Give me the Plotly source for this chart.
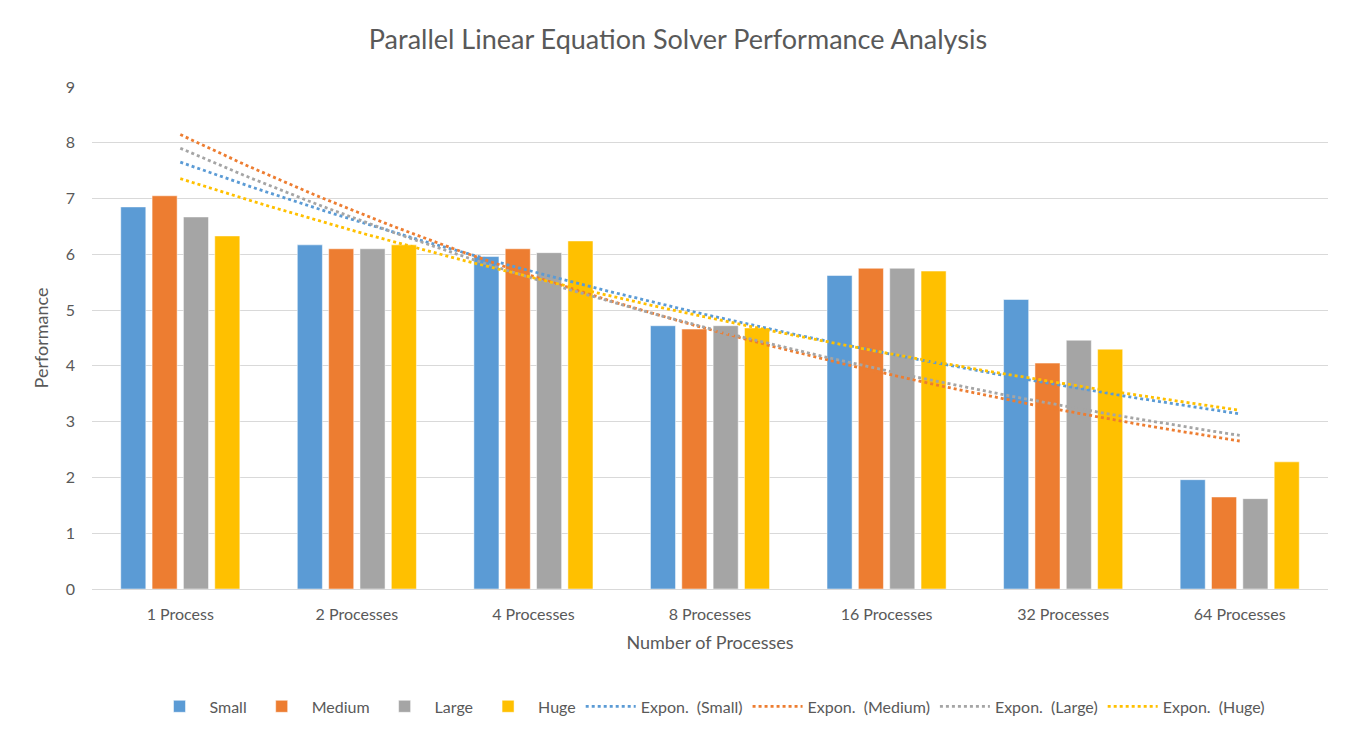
import numpy as np
import plotly.graph_objects as go

# --- data -------------------------------------------------------------------
CATEGORIES = ["1 Process", "2 Processes", "4 Processes", "8 Processes",
              "16 Processes", "32 Processes", "64 Processes"]
SMALL = [6.85, 6.17, 5.96, 4.72, 5.62, 5.19, 1.96]
MEDIUM = [7.05, 6.10, 6.10, 4.66, 5.75, 4.05, 1.65]
LARGE = [6.67, 6.10, 6.03, 4.72, 5.75, 4.46, 1.62]
HUGE = [6.33, 6.17, 6.24, 4.68, 5.70, 4.30, 2.28]
Y_TICKS = [0, 1, 2, 3, 4, 5, 6, 7, 8, 9]

INK = "#595959"
GRID = "#D9D9D9"
FONT = "Lato"
SERIES = [("Small", SMALL, "#5B9BD5"), ("Medium", MEDIUM, "#ED7D31"),
          ("Large", LARGE, "#A5A5A5"), ("Huge", HUGE, "#FFC000")]

xs = np.arange(len(CATEGORIES))
fig = go.Figure()

for name, vals, col in SERIES:
    fig.add_trace(go.Bar(x=xs, y=vals, name=name, marker_color=col,
                         hovertemplate=f"{name}: %{{y:.2f}}<extra></extra>"))

# exponential trendlines (least squares on log values, like Excel's "Expon.")
xf = np.linspace(0, len(CATEGORIES) - 1, 120)
for name, vals, col in SERIES:
    b, a = np.polyfit(xs + 1, np.log(vals), 1)
    fig.add_trace(go.Scatter(x=xf, y=np.exp(a + b * (xf + 1)), mode="lines",
                             name=f"Expon.  ({name})",
                             line=dict(color=col, width=2.8, dash="dot"),
                             hoverinfo="skip"))

# page body has an 8px margin, so margins are trimmed by that amount
fig.update_layout(
    template="plotly_white", font=dict(family=FONT, size=16, color=INK),
    paper_bgcolor="white", plot_bgcolor="white",
    autosize=True,
    margin=dict(l=84, r=20, t=79, b=162),
    barmode="group", bargap=0.29, bargroupgap=0.2,
    title=dict(text="Parallel Linear Equation Solver Performance Analysis",
               x=0.5, xanchor="center", y=0.957, yanchor="middle",
               font=dict(size=27, color=INK)),
    legend=dict(orientation="h", x=0.5, xanchor="center", y=-0.2, yanchor="top",
                font=dict(size=16, color=INK), traceorder="normal",
                itemwidth=50),
)
fig.update_xaxes(range=[-0.5, len(CATEGORIES) - 0.5], tickvals=list(xs),
                 ticktext=CATEGORIES, showgrid=False, zeroline=False,
                 showline=False, ticks="", ticklabelstandoff=14,
                 title=dict(text="Number of Processes", font=dict(size=18, color=INK),
                            standoff=14))
fig.update_yaxes(range=[0, 9], tickvals=Y_TICKS, gridcolor=GRID, gridwidth=1,
                 zeroline=True, zerolinecolor=GRID, zerolinewidth=1,
                 ticks="", ticklabelstandoff=16,
                 title=dict(text="Performance", font=dict(size=18, color=INK), standoff=12))

fig.write_html("out.html", default_width="100%", default_height="100vh")
